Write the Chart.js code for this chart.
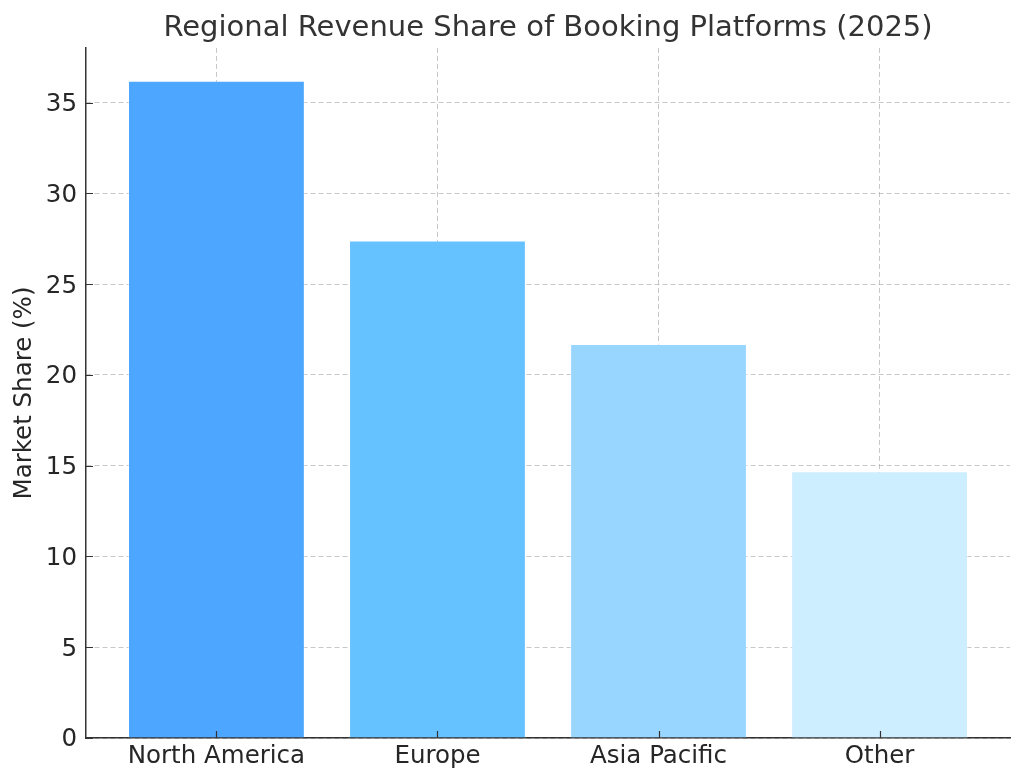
<!DOCTYPE html>
<html>
<head>
<meta charset="utf-8">
<script src="https://cdn.jsdelivr.net/npm/chart.js@4.4.1/dist/chart.umd.min.js"></script>
<style>
  html, body { margin: 0; padding: 0; background: #ffffff; }
  #wrap { width: 1024px; height: 784px; position: relative; }
</style>
</head>
<body>
<div id="wrap"><canvas id="c" width="1024" height="784"></canvas></div>
<script>
const categories = ["North America", "Europe", "Asia Pacific", "Other"];
const shareValues = [36.2, 27.4, 21.7, 14.7];
const barColors = ["#4da6ff", "#66c2ff", "#99d6ff", "#cceeff"];
const yTickValues = [0, 5, 10, 15, 20, 25, 30, 35];
const chartTitle = "Regional Revenue Share of Booking Platforms (2025)";
const yAxisTitle = "Market Share (%)";

const FONT = "'DejaVu Sans', sans-serif";
const TXT = "#333333";
const TICK = "#262626";
const GRID = "rgba(176,176,176,0.7)";

const points = shareValues.map((v, i) => ({ x: i, y: v }));

const inwardTicks = {
  id: 'inwardTicks',
  afterDraw(chart) {
    const ctx = chart.ctx;
    const xs = chart.scales.x, ys = chart.scales.y;
    const a = chart.chartArea;
    ctx.save();
    ctx.strokeStyle = TXT;
    ctx.lineWidth = 1.2;
    ctx.beginPath();
    yTickValues.forEach(v => {
      const py = Math.round(ys.getPixelForValue(v)) + 0.5;
      ctx.moveTo(a.left, py); ctx.lineTo(a.left + 7, py);
    });
    categories.forEach((c, i) => {
      const px = Math.round(xs.getPixelForValue(i)) + 0.5;
      ctx.moveTo(px, a.bottom); ctx.lineTo(px, a.bottom - 7);
    });
    ctx.stroke();
    ctx.restore();
  }
};

new Chart(document.getElementById('c'), {
  type: 'bar',
  data: {
    datasets: [{
      data: points,
      backgroundColor: barColors,
      borderColor: "rgba(255,255,255,0.45)",
      borderWidth: 1,
      barPercentage: 0.8,
      categoryPercentage: 1.0
    }]
  },
  plugins: [inwardTicks],
  options: {
    responsive: false,
    animation: false,
    layout: { padding: { left: 0, right: 14, top: 0, bottom: 0 } },
    plugins: {
      legend: { display: false },
      tooltip: { enabled: false },
      title: {
        display: true,
        text: chartTitle,
        fullSize: false,
        color: TXT,
        font: { family: FONT, size: 29, weight: 'normal', lineHeight: 1.2 },
        padding: { top: 10.6, bottom: 2.6 }
      }
    },
    scales: {
      x: {
        type: 'linear',
        min: -0.59,
        max: 3.59,
        offset: false,
        z: 1,
        afterBuildTicks(scale) {
          scale.ticks = categories.map((c, i) => ({ value: i }));
        },
        afterFit(scale) { scale.height = 46; },
        ticks: {
          color: TICK,
          font: { family: FONT, size: 24.5 },
          padding: 4,
          maxRotation: 0,
          autoSkip: false,
          callback: (v) => categories[v] !== undefined ? categories[v] : ''
        },
        grid: {
          color: GRID,
          lineWidth: 1,
          offset: false,
          drawTicks: false
        },
        border: { display: true, color: TXT, width: 1.5, dash: [5, 3] }
      },
      y: {
        min: 0,
        max: 38.01,
        z: 1,
        afterBuildTicks(scale) {
          scale.ticks = yTickValues.map(v => ({ value: v }));
        },
        afterFit(scale) { scale.width = 86; },
        ticks: {
          color: TICK,
          font: { family: FONT, size: 24.5 },
          padding: 9,
          labelOffset: 2
        },
        grid: {
          color: GRID,
          lineWidth: 1,
          drawTicks: false
        },
        border: { display: true, color: TXT, width: 1.5, dash: [5, 3] },
        title: {
          display: true,
          text: yAxisTitle,
          color: TICK,
          font: { family: FONT, size: 24.5, lineHeight: 1.2 },
          padding: { top: 10.3, bottom: 0 }
        }
      }
    }
  }
});
</script>
</body>
</html>
